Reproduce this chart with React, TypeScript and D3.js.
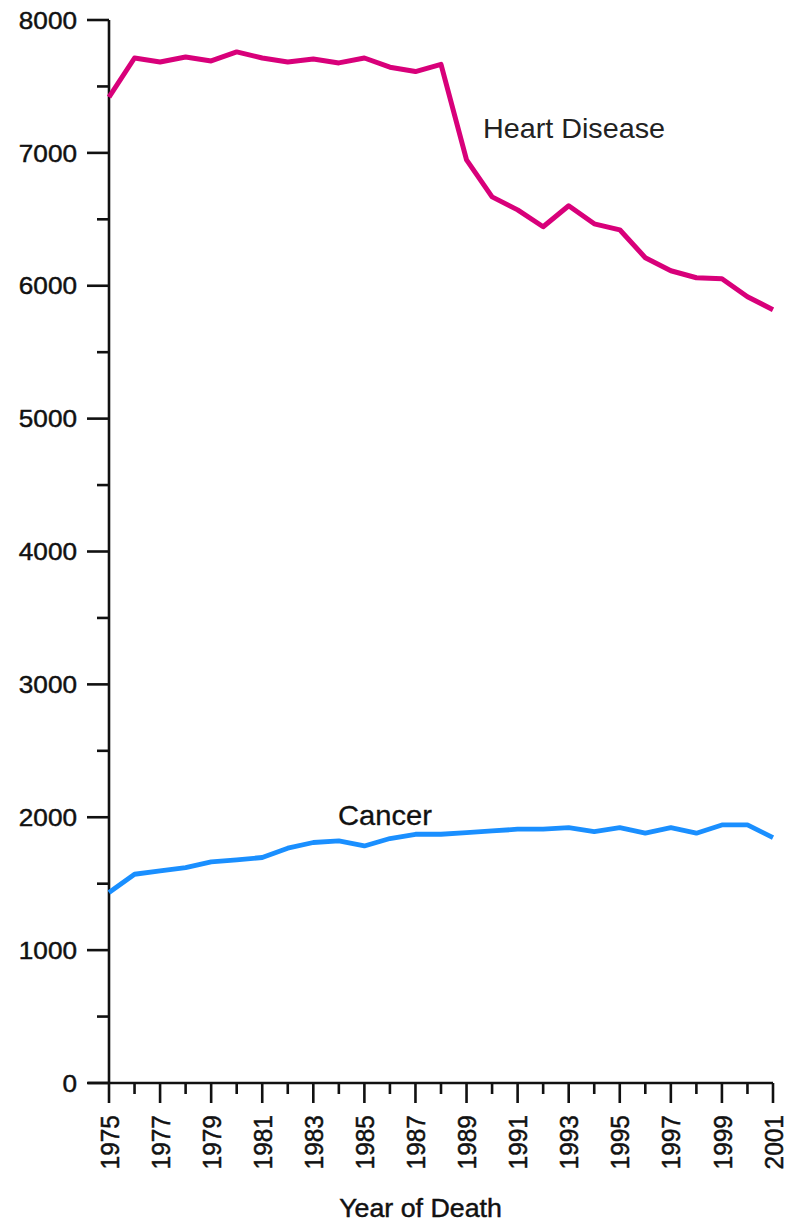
import React from "react";
import * as d3 from "d3";

// Deaths per year by cause
const years: number[] = d3.range(1975, 2002);

const heartDisease: number[] = [
  7420, 7714, 7684, 7722, 7692, 7760, 7714, 7684, 7707, 7677, 7714, 7645, 7612,
  7666, 6947, 6669, 6571, 6444, 6602, 6466, 6421, 6211, 6113, 6060, 6053, 5917,
  5820,
];

const cancer: number[] = [
  1434, 1571, 1596, 1621, 1664, 1679, 1697, 1767, 1810, 1822, 1784, 1840, 1872,
  1872, 1885, 1897, 1910, 1910, 1922, 1892, 1922, 1880, 1922, 1880, 1942, 1942,
  1847,
];

const yTicks: number[] = [0, 1000, 2000, 3000, 4000, 5000, 6000, 7000, 8000];
const yMinorTicks: number[] = [500, 1500, 2500, 3500, 4500, 5500, 6500, 7500];
const xMajorTicks: number[] = d3.range(1975, 2002, 2);
const xMinorTicks: number[] = d3.range(1976, 2001, 2);

const FONT = "'Liberation Sans', Arial, Helvetica, sans-serif";
const HEART = "#d8007a";
const CANCER = "#1a8fff";

export default function App() {
  const W = 794;
  const H = 1222;
  const x = d3.scaleLinear().domain([1975, 2001]).range([109, 773]);
  const y = d3.scaleLinear().domain([0, 8000]).range([1083, 20]);

  const line = d3
    .line<number>()
    .x((_, i) => x(years[i]))
    .y((d) => y(d));

  const axisColor = "#111";
  const stretch = 1.09;
  const textStroke = { stroke: axisColor, strokeWidth: 0.45 };

  return (
    <svg
      width={W}
      height={H}
      style={{ position: "absolute", left: 0, top: 0, background: "#fff" }}
    >
      <rect x={0} y={0} width={W} height={H} fill="#fff" />

      {/* y axis */}
      <line
        x1={x(1975)}
        x2={x(1975)}
        y1={y(8000)}
        y2={y(0)}
        stroke={axisColor}
        strokeWidth={2.6}
      />
      {yTicks.map((t) => (
        <g key={"yt" + t}>
          <line
            x1={x(1975) - 22}
            x2={x(1975)}
            y1={y(t)}
            y2={y(t)}
            stroke={axisColor}
            strokeWidth={2.6}
          />
          <text
            transform={`translate(77,${y(t)}) scale(${stretch},1)`}
            textAnchor="end"
            dy="0.36em"
            fontFamily={FONT}
            fontSize={24}
            fill={axisColor}
            {...textStroke}
          >
            {t}
          </text>
        </g>
      ))}
      {yMinorTicks.map((t) => (
        <line
          key={"ym" + t}
          x1={x(1975) - 12}
          x2={x(1975)}
          y1={y(t)}
          y2={y(t)}
          stroke={axisColor}
          strokeWidth={2.6}
        />
      ))}

      {/* x axis */}
      <line
        x1={x(1975) - 21}
        x2={x(2001)}
        y1={y(0)}
        y2={y(0)}
        stroke={axisColor}
        strokeWidth={2.6}
      />
      {xMajorTicks.map((t) => (
        <g key={"xt" + t}>
          <line
            x1={x(t)}
            x2={x(t)}
            y1={y(0)}
            y2={y(0) + 20}
            stroke={axisColor}
            strokeWidth={2.6}
          />
          <text
            transform={`translate(${x(t)},1115) scale(${stretch},1) rotate(-90)`}
            textAnchor="end"
            dy="0.36em"
            fontFamily={FONT}
            fontSize={24.5}
            fill={axisColor}
            {...textStroke}
          >
            {t}
          </text>
        </g>
      ))}
      {xMinorTicks.map((t) => (
        <line
          key={"xm" + t}
          x1={x(t)}
          x2={x(t)}
          y1={y(0)}
          y2={y(0) + 11}
          stroke={axisColor}
          strokeWidth={2.6}
        />
      ))}

      <text
        transform={`translate(420.5,1216.5) scale(1.03,1)`}
        textAnchor="middle"
        fontFamily={FONT}
        fontSize={26}
        fill={axisColor}
        {...textStroke}
      >
        Year of Death
      </text>

      {/* series */}
      <path
        d={line(heartDisease) || ""}
        fill="none"
        stroke={HEART}
        strokeWidth={5}
        strokeLinejoin="round"
      />
      <path
        d={line(cancer) || ""}
        fill="none"
        stroke={CANCER}
        strokeWidth={4.8}
        strokeLinejoin="round"
      />

      <text
        x={483}
        y={137.5}
        fontFamily={FONT}
        fontSize={28}
        fill="#222"
        textLength={182}
        lengthAdjust="spacingAndGlyphs"
      >
        Heart Disease
      </text>
      <text
        x={338}
        y={825}
        fontFamily={FONT}
        fontSize={28}
        fill="#111"
        stroke="#111"
        strokeWidth={0.3}
        textLength={94}
        lengthAdjust="spacingAndGlyphs"
      >
        Cancer
      </text>
    </svg>
  );
}
